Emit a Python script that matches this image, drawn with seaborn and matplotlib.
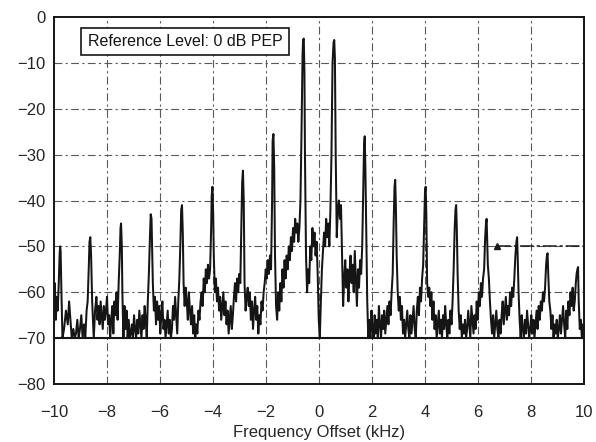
import matplotlib
matplotlib.use("Agg")
import matplotlib.pyplot as plt
import numpy as np
import pandas as pd
import seaborn as sns

# spectrum trace (frequency offset in kHz, level in dB)
freq_khz = [
    -10.00, -9.97, -9.93, -9.90, -9.86, -9.82, -9.79, -9.77, -9.75, -9.72, -9.68,
    -9.62, -9.55, -9.48, -9.43, -9.38, -9.33, -9.27, -9.22, -9.17, -9.12, -9.07,
    -9.02, -8.97, -8.92, -8.87, -8.82, -8.77, -8.73, -8.69, -8.66, -8.63, -8.60,
    -8.56, -8.50, -8.45, -8.40, -8.36, -8.32, -8.28, -8.24, -8.20, -8.16, -8.12,
    -8.08, -8.04, -8.00, -7.96, -7.92, -7.88, -7.84, -7.80, -7.76, -7.72, -7.68,
    -7.64, -7.60, -7.56, -7.52, -7.49, -7.47, -7.44,
    -7.42, -7.38, -7.34, -7.30, -7.26, -7.22, -7.18, -7.14, -7.10, -7.06, -7.02,
    -6.98, -6.94, -6.90, -6.86, -6.82, -6.78, -6.74, -6.70, -6.66, -6.62, -6.58,
    -6.54, -6.50, -6.46, -6.42, -6.38, -6.35, -6.32, -6.29,
    -6.27, -6.23, -6.19, -6.15, -6.11, -6.07, -6.03, -5.99, -5.95, -5.91, -5.87,
    -5.83, -5.79, -5.75, -5.71, -5.67, -5.63, -5.59, -5.55, -5.51, -5.47, -5.43,
    -5.39, -5.35, -5.31, -5.27, -5.23, -5.20, -5.17, -5.14,
    -5.11, -5.07, -5.03, -4.99, -4.95, -4.91, -4.87, -4.83, -4.79, -4.75, -4.71,
    -4.67, -4.63, -4.59, -4.55, -4.51, -4.47, -4.43, -4.39, -4.35, -4.31, -4.27,
    -4.23, -4.19, -4.15, -4.11, -4.07, -4.05, -4.02, -3.99,
    -3.97, -3.93, -3.89, -3.85, -3.81, -3.77, -3.73, -3.69, -3.65, -3.61, -3.57,
    -3.53, -3.49, -3.45, -3.41, -3.37, -3.33, -3.29, -3.25, -3.21, -3.17, -3.13,
    -3.09, -3.05, -3.01, -2.97, -2.93, -2.90, -2.87, -2.84,
    -2.81, -2.77, -2.73, -2.69, -2.65, -2.61, -2.57, -2.53, -2.49, -2.45, -2.41,
    -2.37, -2.33, -2.29, -2.25, -2.21, -2.17, -2.13, -2.09, -2.05, -2.01, -1.97,
    -1.93, -1.89, -1.85, -1.81, -1.77, -1.75, -1.72, -1.69,
    -1.66, -1.62, -1.58, -1.54, -1.50, -1.46, -1.42, -1.38, -1.34, -1.30, -1.26,
    -1.22, -1.18, -1.14, -1.10, -1.06, -1.02, -0.98, -0.94, -0.90, -0.86, -0.82,
    -0.78, -0.74, -0.70, -0.66, -0.62, -0.60, -0.575, -0.55,
    -0.53, -0.49, -0.45, -0.41, -0.37, -0.33, -0.29, -0.25, -0.21, -0.17, -0.13,
    -0.09, -0.05, -0.01, 0.03, 0.07, 0.11, 0.15, 0.19, 0.23, 0.27, 0.31,
    0.35, 0.39, 0.43, 0.47, 0.51, 0.55, 0.575, 0.60,
    0.63, 0.67, 0.71, 0.75, 0.79, 0.83, 0.87, 0.91, 0.95, 0.99, 1.03,
    1.07, 1.11, 1.15, 1.19, 1.23, 1.27, 1.31, 1.35, 1.39, 1.43, 1.47,
    1.51, 1.55, 1.59, 1.63, 1.67, 1.70, 1.725, 1.75,
    1.78, 1.82, 1.86, 1.90, 1.94, 1.98, 2.02, 2.06, 2.10, 2.14, 2.18,
    2.22, 2.26, 2.30, 2.34, 2.38, 2.42, 2.46, 2.50, 2.54, 2.58, 2.62,
    2.66, 2.70, 2.74, 2.78, 2.82, 2.85, 2.875, 2.90,
    2.93, 2.97, 3.01, 3.05, 3.09, 3.13, 3.17, 3.21, 3.25, 3.29, 3.33,
    3.37, 3.41, 3.45, 3.49, 3.53, 3.57, 3.61, 3.65, 3.69, 3.73, 3.77,
    3.81, 3.85, 3.89, 3.93, 3.97, 4.00, 4.025, 4.05,
    4.08, 4.12, 4.16, 4.20, 4.24, 4.28, 4.32, 4.36, 4.40, 4.44, 4.48,
    4.52, 4.56, 4.60, 4.64, 4.68, 4.72, 4.76, 4.80, 4.84, 4.88, 4.92,
    4.96, 5.00, 5.04, 5.08, 5.12, 5.15, 5.175, 5.20,
    5.23, 5.27, 5.31, 5.35, 5.39, 5.43, 5.47, 5.51, 5.55, 5.59, 5.63,
    5.67, 5.71, 5.75, 5.79, 5.83, 5.87, 5.91, 5.95, 5.99, 6.03, 6.07,
    6.11, 6.15, 6.19, 6.23, 6.27, 6.30, 6.325, 6.35,
    6.37, 6.41, 6.45, 6.49, 6.53, 6.57, 6.61, 6.65, 6.69, 6.73, 6.77,
    6.81, 6.85, 6.89, 6.93, 6.97, 7.01, 7.05, 7.09, 7.13, 7.17, 7.21,
    7.25, 7.29, 7.33, 7.37, 7.41, 7.45, 7.475, 7.50,
    7.53, 7.57, 7.61, 7.65, 7.69, 7.73, 7.77, 7.81, 7.85, 7.89, 7.93,
    7.97, 8.01, 8.05, 8.09, 8.13, 8.17, 8.21, 8.25, 8.29, 8.33, 8.37,
    8.41, 8.45, 8.49, 8.53, 8.57, 8.60, 8.625, 8.65,
    8.69, 8.73, 8.77, 8.81, 8.85, 8.89, 8.93, 8.97, 9.01, 9.05, 9.09,
    9.13, 9.17, 9.21, 9.25, 9.29, 9.33, 9.37, 9.41, 9.45, 9.49, 9.53,
    9.57, 9.61, 9.65, 9.69, 9.72, 9.75, 9.775, 9.80, 9.84, 9.88, 9.92,
    9.96, 10.00,
]

level_db = [
    -63, -58, -66, -61, -64, -58, -52, -50, -51, -60, -70,
    -68, -64, -67, -62, -66, -70, -68, -70, -69, -66, -70,
    -68, -65, -70, -67, -70, -64, -62, -55, -49, -48, -52,
    -62, -70, -64, -61, -66, -63, -67, -62, -65, -68, -63,
    -66, -64, -61, -67, -65, -70, -66, -63, -69, -62, -65,
    -60, -66, -58, -52, -46, -45, -50,
    -60, -70, -63, -68, -64, -70, -66, -70, -69, -67, -70,
    -65, -68, -70, -66, -69, -64, -67, -70, -65, -68, -63,
    -66, -70, -62, -56, -48, -43, -44, -52,
    -58, -64, -61, -67, -62, -66, -63, -69, -65, -62, -68,
    -66, -70, -67, -64, -69, -66, -70, -68, -63, -66, -61,
    -65, -69, -62, -57, -49, -42, -41, -47,
    -58, -63, -59, -62, -66, -60, -64, -67, -63, -69, -65,
    -70, -67, -69, -64, -66, -62, -60, -63, -57, -60, -55,
    -58, -54, -57, -55, -46, -39, -37, -44,
    -52, -60, -57, -62, -59, -64, -61, -66, -63, -60, -65,
    -62, -67, -64, -69, -66, -63, -68, -65, -61, -58, -62,
    -57, -60, -56, -58, -45, -36, -33.5, -40,
    -58, -64, -61, -59, -63, -60, -66, -62, -68, -64, -61,
    -66, -63, -69, -65, -67, -62, -64, -60, -58, -55, -57,
    -53, -56, -52, -55, -40, -27, -25.5, -33,
    -52, -63, -66, -60, -64, -58, -62, -55, -59, -53, -57,
    -52, -55, -50, -53, -48, -51, -46, -49, -44, -47, -45,
    -49, -46, -40, -25, -8, -5, -4.7, -12,
    -30, -52, -60, -55, -58, -50, -53, -46, -50, -47, -52,
    -49, -56, -66, -70, -62, -55, -51, -47, -50, -44, -48,
    -45, -50, -42, -30, -10, -5.5, -5.0, -9,
    -30, -48, -42, -40, -44, -41, -52, -63, -57, -53, -59,
    -55, -62, -56, -52, -58, -54, -60, -51, -57, -63, -55,
    -59, -53, -56, -50, -38, -28, -26, -33,
    -45, -62, -70, -66, -70, -64, -68, -70, -65, -69, -66,
    -70, -63, -67, -70, -65, -68, -64, -69, -66, -63, -67,
    -62, -65, -60, -56, -44, -37, -35.5, -41,
    -52, -60, -64, -61, -66, -63, -69, -66, -70, -67, -64,
    -68, -70, -65, -69, -66, -63, -68, -70, -64, -61, -65,
    -59, -62, -57, -54, -45, -38, -37, -43,
    -58, -61, -59, -63, -60, -66, -62, -68, -65, -70, -67,
    -64, -69, -66, -70, -65, -68, -63, -67, -70, -66, -69,
    -64, -67, -62, -55, -46, -42, -41, -46,
    -56, -64, -68, -65, -70, -67, -69, -66, -70, -68, -64,
    -67, -70, -63, -66, -69, -65, -68, -62, -66, -60, -63,
    -58, -61, -57, -55, -48, -45, -44, -50,
    -54, -57, -62, -66, -69, -65, -70, -67, -64, -68, -70,
    -66, -69, -65, -62, -67, -64, -61, -66, -63, -65, -60,
    -63, -59, -61, -57, -52, -49, -48, -53,
    -60, -66, -70, -65, -68, -70, -66, -69, -64, -67, -70,
    -68, -65, -69, -66, -70, -67, -64, -68, -63, -66, -62,
    -64, -60, -62, -59, -54, -52, -51.5, -56,
    -62, -64, -68, -65, -70, -67, -69, -66, -70, -68, -65,
    -69, -66, -63, -67, -70, -64, -68, -62, -65, -60, -63,
    -59, -64, -62, -58, -56, -55, -54.5, -62, -68, -66, -70,
    -67, -69,
]

x_ticks = [-10, -8, -6, -4, -2, 0, 2, 4, 6, 8, 10]
y_ticks = [0, -10, -20, -30, -40, -50, -60, -70, -80]
FLOOR_DB = -70
DISPLAY_LINE_DB = -50
DISPLAY_LINE_START = 6.7
REF_TEXT = "Reference Level: 0 dB PEP"

assert len(freq_khz) == len(level_db), (len(freq_khz), len(level_db))

df = pd.DataFrame({"freq": freq_khz, "level": np.maximum(level_db, FLOOR_DB)})

sns.set_style("white")
plt.rcParams["font.family"] = ["Liberation Sans", "DejaVu Sans"]

fig, ax = plt.subplots(figsize=(5.96, 4.42), dpi=100)
fig.subplots_adjust(left=0.0906, right=0.9799, bottom=0.1312, top=0.9615)

grid_style = dict(color="0.35", lw=0.8, ls=(0, (7, 3, 2, 3)), zorder=1)
for x in x_ticks[1:-1]:
    ax.axvline(x, **grid_style)
for y in y_ticks[1:-1]:
    if y != FLOOR_DB:
        ax.axhline(y, **grid_style)

# display line marker on the right
ax.hlines(DISPLAY_LINE_DB, DISPLAY_LINE_START, x_ticks[-1], color="0.1", lw=1.1,
          ls=(0, (9, 2, 2, 2)), zorder=2)
ax.plot([DISPLAY_LINE_START], [DISPLAY_LINE_DB], marker="^", ms=4, color="0.1", zorder=3)

sns.lineplot(data=df, x="freq", y="level", estimator=None, sort=False,
             color="#151515", lw=1.45, ax=ax, zorder=4)
ax.axhline(FLOOR_DB, color="#151515", lw=1.5, zorder=4)

ax.set_xlim(x_ticks[0], x_ticks[-1])
ax.set_ylim(y_ticks[-1], y_ticks[0])
ax.set_xticks(x_ticks)
ax.set_yticks(y_ticks)
ax.tick_params(axis="x", labelsize=12, length=3, pad=12, direction="out")
ax.tick_params(axis="y", labelsize=12, length=3, pad=3, direction="out")
ax.set_xlabel("Frequency Offset (kHz)", fontsize=12, labelpad=4)
ax.set_ylabel("")

for s in ax.spines.values():
    s.set_color("#151515")
    s.set_linewidth(1.4)

ax.text(0.247, 0.933, REF_TEXT, transform=ax.transAxes, ha="center", va="center",
        fontsize=11.5, color="#151515", zorder=5,
        bbox=dict(boxstyle="square,pad=0.4", fc="white", ec="#151515", lw=1.2))

fig.savefig("out.png", dpi=100)
